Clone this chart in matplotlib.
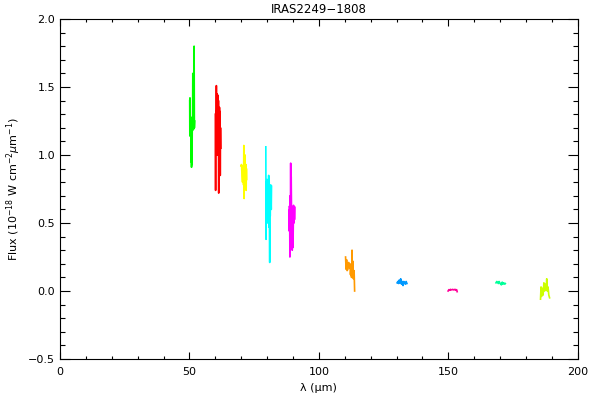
import numpy as np
import matplotlib
matplotlib.use('Agg')
import matplotlib.pyplot as plt
from matplotlib.ticker import MultipleLocator

# spectral segments (wavelength in micron, flux)
green_wav = [50.1, 50.15, 50.2, 50.3, 50.5, 50.6, 50.7, 50.8, 50.9, 51.0, 51.1, 51.2, 51.3, 51.4, 51.5, 51.6, 51.8, 51.9, 52.0]
green_flux = [1.40, 1.14, 1.42, 1.15, 1.22, 0.95, 1.25, 0.91, 1.20, 0.93, 1.28, 1.18, 1.60, 1.20, 1.58, 1.19, 1.80, 1.20, 1.25]

red_wav = [60.0, 60.1, 60.2, 60.3, 60.4, 60.5, 60.6, 60.7, 60.8, 60.9, 61.0, 61.1, 61.2, 61.3, 61.4, 61.5, 61.6, 61.7, 61.8, 61.9, 62.0, 62.1]
red_flux = [1.30, 0.74, 1.32, 1.05, 1.51, 1.02, 1.45, 1.00, 1.30, 1.03, 1.44, 1.00, 1.40, 0.72, 1.30, 1.10, 1.35, 1.02, 1.32, 0.85, 1.20, 1.05]

yellow_wav = [69.9, 70.1, 70.3, 70.5, 70.7, 70.9, 71.0, 71.1, 71.2, 71.3, 71.5, 71.6, 71.8, 71.9, 72.0, 72.1]
yellow_flux = [0.92, 0.93, 0.85, 0.80, 0.92, 0.78, 1.07, 0.68, 0.90, 0.76, 1.00, 0.80, 0.93, 0.74, 0.90, 0.82]

cyan_wav = [79.5, 79.6, 79.7, 79.9, 80.0, 80.2, 80.3, 80.5, 80.6, 80.7, 80.8, 81.0, 81.1, 81.2, 81.4, 81.6, 81.7]
cyan_flux = [1.06, 0.38, 0.80, 0.55, 0.82, 0.50, 0.75, 0.52, 0.85, 0.47, 0.80, 0.21, 0.72, 0.55, 0.78, 0.60, 0.77]

magenta_wav = [88.5, 88.6, 88.7, 88.8, 88.9, 89.0, 89.1, 89.2, 89.3, 89.5, 89.6, 89.7, 89.9, 90.0, 90.2, 90.4, 90.6, 90.7]
magenta_flux = [0.62, 0.44, 0.60, 0.25, 0.70, 0.45, 0.94, 0.50, 0.84, 0.42, 0.62, 0.30, 0.60, 0.32, 0.63, 0.50, 0.62, 0.53]

orange_wav = [110.3, 110.5, 110.7, 110.9, 111.2, 111.5, 111.8, 112.0, 112.2, 112.4, 112.6, 112.8, 112.9, 113.1, 113.3, 113.6, 113.8]
orange_flux = [0.25, 0.16, 0.23, 0.15, 0.16, 0.21, 0.17, 0.20, 0.12, 0.17, 0.10, 0.30, 0.12, 0.22, 0.09, 0.15, 0.00]

blue_wav = [130.2, 130.5, 130.8, 131.0, 131.3, 131.6, 131.9, 132.2, 132.5, 132.8, 133.1, 133.4, 133.7, 134.0]
blue_flux = [0.06, 0.07, 0.055, 0.08, 0.06, 0.09, 0.05, 0.07, 0.04, 0.07, 0.06, 0.05, 0.07, 0.055]

pink_wav = [149.9, 150.2, 150.5, 150.8, 151.1, 151.4, 151.7, 152.0, 152.3, 152.6, 152.9, 153.2, 153.4]
pink_flux = [0.0, 0.01, 0.005, 0.012, 0.008, 0.01, 0.012, 0.008, 0.01, 0.012, 0.005, 0.01, -0.005]

teal_wav = [168.4, 168.7, 169.0, 169.3, 169.6, 169.9, 170.2, 170.5, 170.8, 171.1, 171.4, 171.8, 172.0]
teal_flux = [0.06, 0.07, 0.065, 0.055, 0.07, 0.06, 0.05, 0.045, 0.065, 0.05, 0.06, 0.05, 0.055]

lime_wav = [185.6, 185.8, 186.0, 186.3, 186.6, 186.9, 187.2, 187.5, 187.8, 188.0, 188.2, 188.5, 188.8, 189.1]
lime_flux = [-0.06, 0.03, -0.04, 0.02, -0.03, 0.06, 0.00, 0.05, 0.02, 0.09, 0.00, 0.03, -0.03, -0.05]

segments = [
    (green_wav, green_flux, '#00ff00'),
    (red_wav, red_flux, '#ff0000'),
    (yellow_wav, yellow_flux, '#ffff00'),
    (cyan_wav, cyan_flux, '#00ffff'),
    (magenta_wav, magenta_flux, '#ff00ff'),
    (orange_wav, orange_flux, '#ff9900'),
    (blue_wav, blue_flux, '#0099ff'),
    (pink_wav, pink_flux, '#ff0099'),
    (teal_wav, teal_flux, '#00ff99'),
    (lime_wav, lime_flux, '#ccff00'),
]

plt.rcParams['font.family'] = ['DejaVu Sans']
fig = plt.figure(figsize=(6, 4), dpi=100)
ax = fig.add_axes([0.1, 0.1025, 0.863, 0.85])

for wav, flux, col in segments:
    ax.plot(wav, flux, color=col, lw=1.2)

ax.set_xlim(0, 200)
ax.set_ylim(-0.5, 2.0)
ax.xaxis.set_major_locator(MultipleLocator(50))
ax.xaxis.set_minor_locator(MultipleLocator(10))
ax.yaxis.set_major_locator(MultipleLocator(0.5))
ax.yaxis.set_minor_locator(MultipleLocator(0.1))
ax.xaxis.set_major_formatter(plt.FuncFormatter(lambda v, p: '%d' % v))
ax.yaxis.set_major_formatter(plt.FuncFormatter(lambda v, p: ('%.1f' % v).replace('-', '\u2212')))

ax.tick_params(axis='x', which='major', direction='in', length=5, width=0.8, top=True, labelsize=8, pad=6)
ax.tick_params(axis='x', which='minor', direction='in', length=2.5, width=0.8, top=True)
ax.tick_params(axis='y', which='major', direction='in', length=7.5, width=0.8, right=True, labelsize=8)
ax.tick_params(axis='y', which='minor', direction='in', length=3.7, width=0.8, right=True)
for s in ax.spines.values():
    s.set_linewidth(0.8)

ax.set_title('IRAS2249\u22121808', fontsize=8.5, pad=4)
ax.set_xlabel('\u03bb (\u03bcm)', fontsize=8)
ax.set_ylabel('Flux (10$^{-18}$ W cm$^{-2}$$\\mu$m$^{-1}$)', fontsize=8)

fig.savefig('out.png', dpi=100)
